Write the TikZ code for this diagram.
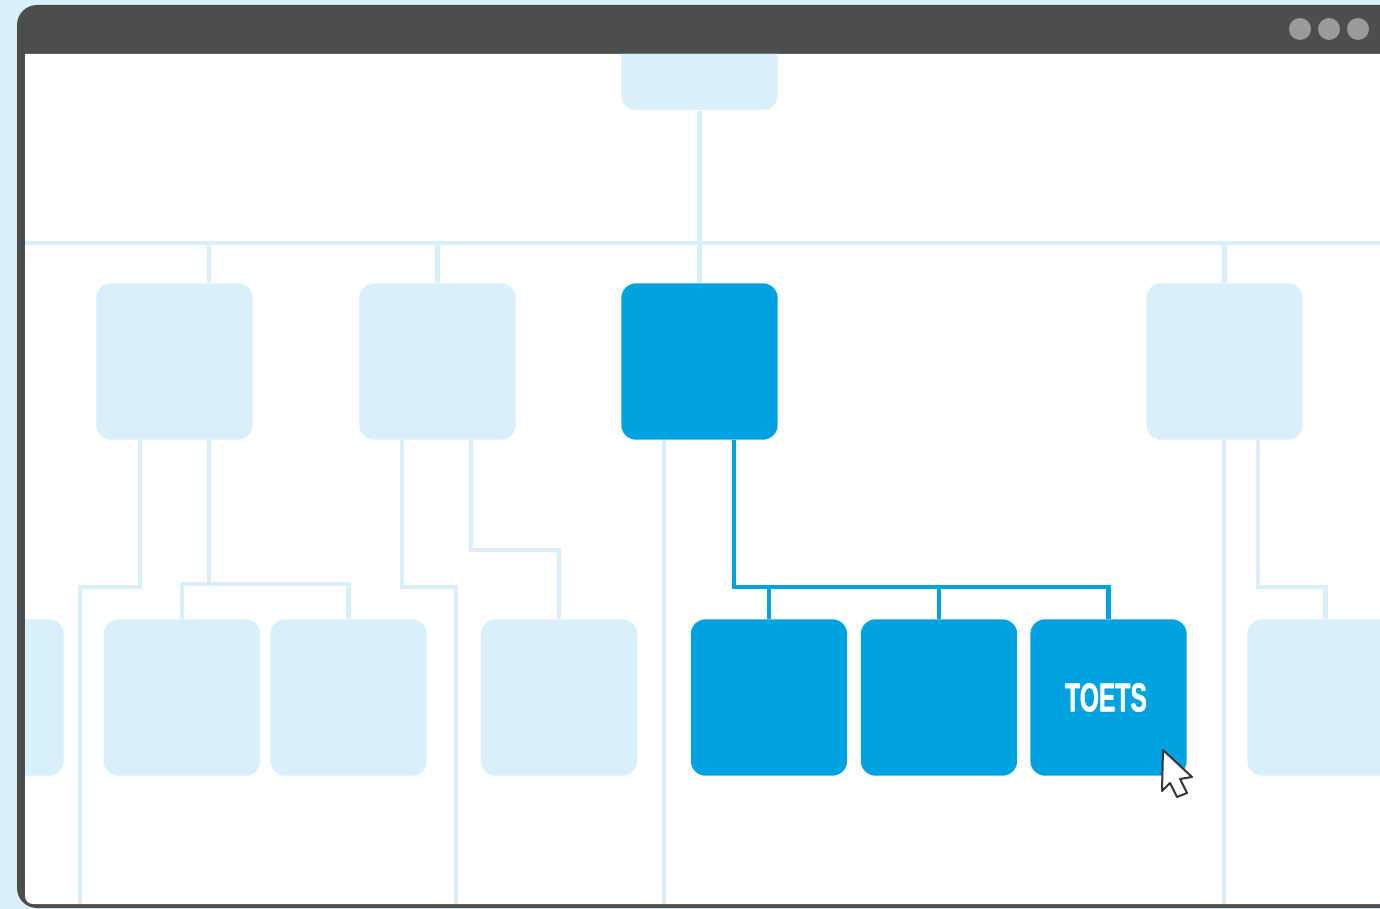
\documentclass[tikz,border=0pt]{standalone}
\usepackage{fontspec}
\newfontfamily\toetsfont{Liberation Sans Bold}[FakeStretch=0.61,FakeBold=1.2]
\definecolor{palecol}{HTML}{D9F0FB}
\definecolor{darkcol}{HTML}{00A3E0}
\definecolor{framecol}{HTML}{4D4D4D}
\definecolor{dotcol}{HTML}{9A9A9A}
\tikzset{
  palebox/.style={fill=palecol,rounded corners=0.3cm,minimum size=3.13cm,inner sep=0pt},
  darkbox/.style={fill=darkcol,rounded corners=0.3cm,minimum size=3.13cm,inner sep=0pt,text=white},
  paleline/.style={draw=palecol,line width=0.095cm},
  darkline/.style={draw=darkcol,line width=0.085cm},
  windot/.style={circle,fill=dotcol,minimum size=0.44cm,inner sep=0pt},
}
\begin{document}
\begin{tikzpicture}[x=0.02cm,y=-0.02cm]
  \def\rowB{361.5}
  \def\rowC{697.5}
  \def\palecard#1#2#3{
    \node[palebox] (#1) at (#2,#3) {};
  }
  \useasboundingbox (0,0) rectangle (1380,909);
  \clip (0,0) rectangle (1380,909);

  %%% window
  \fill[palecol] (0,0) rectangle (1380,909);
  \fill[framecol,rounded corners=0.4cm] (17,5) rectangle (1440,908);
  \fill[white] (25,54) -- (1400,54) -- (1400,904) [rounded corners=0.16cm] -- (25,904) [sharp corners] -- cycle;
  \node[windot] (dotA) at (1300,29) {};
  \node[windot] (dotB) at (1329,29) {};
  \node[windot] (dotC) at (1358,29) {};

  \begin{scope}
    \clip (25,54) -- (1400,54) -- (1400,904) [rounded corners=0.16cm] -- (25,904) [sharp corners] -- cycle;

    %%% pale connectors
    \coordinate (busL) at (25,243);
    \coordinate (busR) at (1400,243);
    \coordinate (footA) at (80,904);
    \coordinate (footB) at (456,904);
    \coordinate (footC) at (664,904);
    \coordinate (footD) at (1224,904);
    \coordinate (kneeA) at (140,587);
    \coordinate (kneeB) at (209,584);
    \coordinate (kneeC) at (402,587);
    \coordinate (kneeD) at (471,550);
    \coordinate (kneeE) at (1258,587);

    %%% top row
    \palecard{boxTop}{699.5}{32}
    \palecard{boxA}{174.5}{\rowB}
    \palecard{boxB}{437.5}{\rowB}
    \node[darkbox] (boxC) at (699.5,\rowB) {};
    \palecard{boxD}{1224.5}{\rowB}

    %%% bottom row
    \palecard{boxE}{-14.5}{\rowC}
    \palecard{boxF}{182}{\rowC}
    \palecard{boxG}{348.5}{\rowC}
    \palecard{boxH}{559}{\rowC}
    \node[darkbox] (boxJ) at (769,\rowC) {};
    \node[darkbox] (boxK) at (939,\rowC) {};
    \node[darkbox] (boxL) at (1108.5,\rowC) {\toetsfont\fontsize{23pt}{23pt}\selectfont TOETS\kern2.8pt};
    \palecard{boxM}{1325.5}{\rowC}

    \draw[paleline] (busL) -- (busR);
    \draw[paleline] (boxTop.south) -- (boxC.north);
    \draw[paleline] (boxA.north -| kneeB) -- (kneeB |- busL);
    \draw[paleline] (boxB.north) -- (boxB.north |- busL);
    \draw[paleline] (boxD.north) -- (boxD.north |- busL);

    \draw[paleline] (boxA.south -| kneeA) -- (kneeA) -- (kneeA -| footA) -- (footA);
    \draw[paleline] (boxA.south -| kneeB) -- (kneeB);
    \draw[paleline] (boxF.north) -- (boxF.north |- kneeB) -- (boxG.north |- kneeB) -- (boxG.north);
    \draw[paleline] (boxB.south -| kneeC) -- (kneeC) -- (kneeC -| footB) -- (footB);
    \draw[paleline] (boxB.south -| kneeD) -- (kneeD) -- (kneeD -| boxH.north) -- (boxH.north);
    \draw[paleline] (boxC.south -| footC) -- (footC);
    \draw[paleline] (boxD.south -| footD) -- (footD);
    \draw[paleline] (boxD.south -| kneeE) -- (kneeE) -- (kneeE -| boxM.north) -- (boxM.north);

    %%% dark connectors
    \coordinate (kneeF) at (734,587);
    \draw[darkline] (boxC.south -| kneeF) -- (kneeF) -- (kneeF -| boxL.north) -- (boxL.north);
    \draw[darkline] (kneeF -| boxJ.north) -- (boxJ.north);
    \draw[darkline] (kneeF -| boxK.north) -- (boxK.north);
  \end{scope}

  %%% cursor
  \draw[fill=white,draw=framecol!70!black,line width=0.04cm,line join=round]
    (1163,750) -- (1192,777) -- (1180,779) -- (1187,793) -- (1177,797) -- (1170,783) -- (1162,791) -- cycle;
\end{tikzpicture}
\end{document}
